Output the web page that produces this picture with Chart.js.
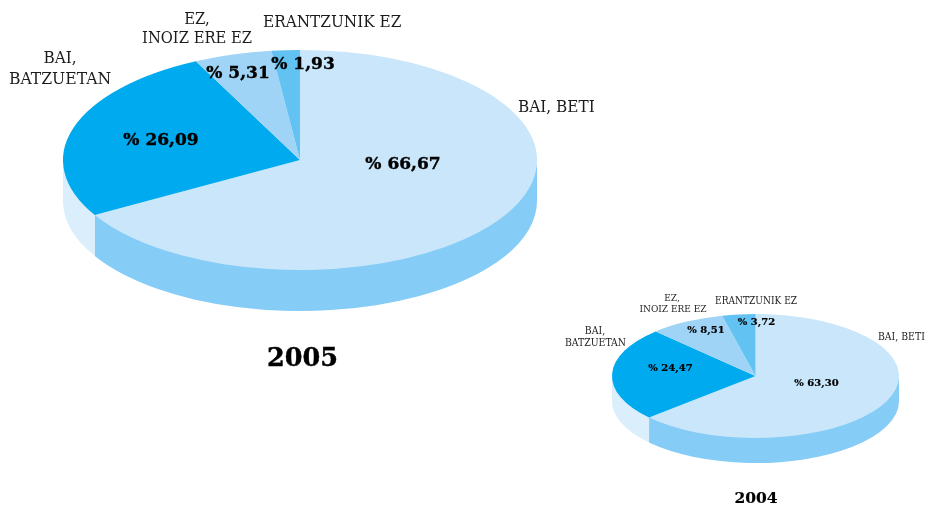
<!DOCTYPE html>
<html><head><meta charset="utf-8">
<style>html,body{margin:0;padding:0;background:#fff;width:926px;height:505px;overflow:hidden}canvas{position:absolute;left:0;top:0}</style>
<script src="https://cdn.jsdelivr.net/npm/chart.js@4/dist/chart.umd.min.js"></script>
</head><body>
<canvas id="c2005" width="926" height="505"></canvas>
<canvas id="c2004" width="926" height="505"></canvas>
<script>
const categories = ['BAI, BETI', 'BAI, BATZUETAN', 'EZ, INOIZ ERE EZ', 'ERANTZUNIK EZ'];
const values2005 = [66.67, 26.09, 5.31, 1.93];
const values2004 = [63.30, 24.47, 8.51, 3.72];
const valueText2005 = ['% 66,67', '% 26,09', '% 5,31', '% 1,93'];
const valueText2004 = ['% 63,30', '% 24,47', '% 8,51', '% 3,72'];
const topColors = ['#C9E6FA', '#00AAEE', '#A0D4F6', '#62C2F2'];
const sideColors = ['#85CCF6', '#DAEEFC', '#DAEEFC', '#DAEEFC'];

const SERIF = '"DejaVu Serif"';
const COND = '"DejaVu Serif Condensed"';

function pie3d(id, values, g) {
  const plugin = {
    id: 'tilt',
    beforeDatasetsDraw(chart) {
      const ctx = chart.ctx, a = chart.chartArea;
      const cx = (a.left + a.right) / 2, cy = (a.top + a.bottom) / 2;
      const k = g.ry / g.rx;
      ctx.save();
      ctx.translate(g.cx, g.cy);
      ctx.scale(1, k);
      ctx.translate(-cx, -cy);
      const dy = g.depth / k;
      chart.getDatasetMeta(0).data.forEach((el, i) => {
        const a0 = Math.max(el.startAngle, 0), a1 = Math.min(el.endAngle, Math.PI);
        if (a0 >= a1) return;
        ctx.beginPath();
        ctx.arc(el.x, el.y - 2 / k, el.outerRadius, a0, a1);
        ctx.arc(el.x, el.y + dy, el.outerRadius, a1, a0, true);
        ctx.closePath();
        ctx.fillStyle = sideColors[i];
        ctx.fill();
      });
    },
    afterDatasetsDraw(chart) { chart.ctx.restore(); },
    afterDraw(chart) {
      const ctx = chart.ctx;
      ctx.save();
      ctx.textBaseline = 'middle';
      ctx.fillStyle = '#1c1c1c';
      g.labels.forEach(t => {
        ctx.font = t[3] + 'px ' + COND;
        ctx.textAlign = t[4] || 'center';
        ctx.fillText(t[0], t[1], t[2]);
      });
      ctx.fillStyle = '#000';
      ctx.strokeStyle = '#000';
      ctx.lineWidth = g.valueStroke;
      ctx.textAlign = 'center';
      g.values.forEach(t => {
        ctx.font = 'bold ' + g.valueSize + 'px ' + SERIF;
        ctx.fillText(t[0], t[1], t[2]);
        ctx.strokeText(t[0], t[1], t[2]);
      });
      ctx.font = 'bold ' + g.title[3] + 'px ' + SERIF;
      ctx.fillText(g.title[0], g.title[1], g.title[2]);
      ctx.strokeText(g.title[0], g.title[1], g.title[2]);
      ctx.restore();
    }
  };
  return new Chart(document.getElementById(id), {
    type: 'pie',
    data: {labels: categories, datasets: [{data: values, backgroundColor: topColors, borderWidth: 0, clip: false}]},
    options: {
      responsive: false, animation: false, events: [],
      layout: {padding: {left: g.cx - g.rx, right: 926 - g.cx - g.rx, top: 0, bottom: 0}},
      plugins: {legend: {display: false}, tooltip: {enabled: false}}
    },
    plugins: [plugin]
  });
}

pie3d('c2005', values2005, {
  cx: 300, cy: 160, rx: 237, ry: 110, depth: 41, valueSize: 17, valueStroke: 0.4,
  labels: [
    ['BAI, BETI', 518, 108, 17, 'left'],
    ['ERANTZUNIK EZ', 263, 23, 17, 'left'],
    ['EZ,', 197, 20, 16.5], ['INOIZ ERE EZ', 197, 39, 16.4],
    ['BAI,', 60, 59, 17], ['BATZUETAN', 60, 79, 17.4]
  ],
  values: [[valueText2005[0], 403, 165], [valueText2005[1], 161, 141], [valueText2005[2], 238, 74], [valueText2005[3], 303, 65]],
  title: ['2005', 302.5, 359.5, 25.5]
});
pie3d('c2004', values2004, {
  cx: 755.5, cy: 376, rx: 143.5, ry: 62, depth: 25, valueSize: 10, valueStroke: 0.2,
  labels: [
    ['BAI, BETI', 878, 337, 10.4, 'left'],
    ['ERANTZUNIK EZ', 715, 301, 10.1, 'left'],
    ['EZ,', 672, 298, 10], ['INOIZ ERE EZ', 673, 309, 10],
    ['BAI,', 595, 331, 10.4], ['BATZUETAN', 595.5, 343, 10.4]
  ],
  values: [[valueText2004[0], 816.5, 383], [valueText2004[1], 670.5, 368], [valueText2004[2], 706, 330], [valueText2004[3], 756.5, 322]],
  title: ['2004', 756, 498.5, 15.5]
});
</script>
</body></html>
